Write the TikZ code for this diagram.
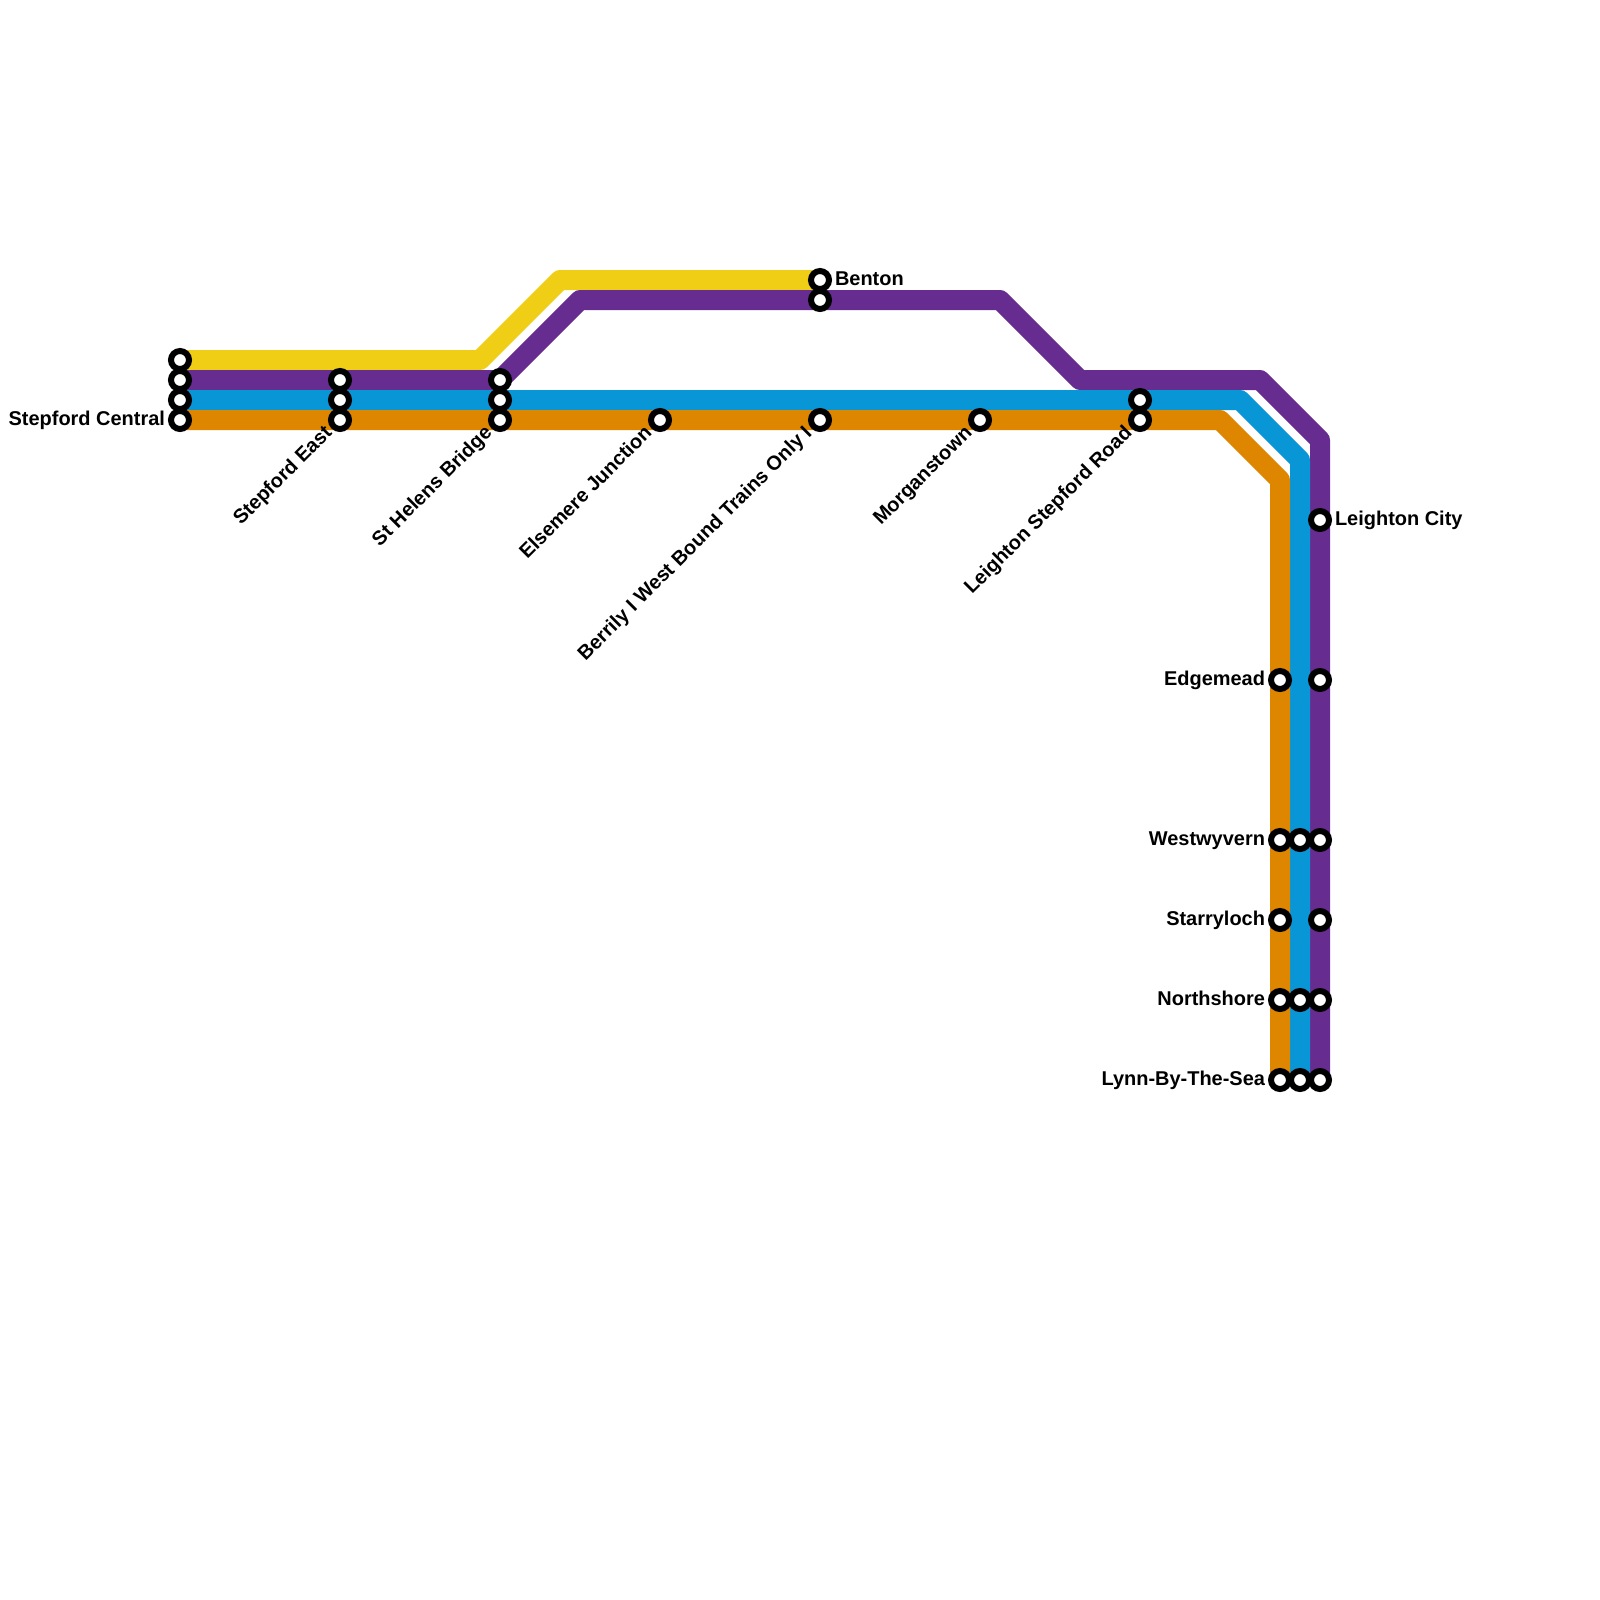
\documentclass[tikz,border=0pt]{standalone}
\usepackage{fontspec}
\setmainfont{Liberation Sans}
\usetikzlibrary{backgrounds}
\definecolor{lineyellow}{HTML}{F0CE15}
\definecolor{linepurple}{HTML}{662C90}
\definecolor{lineblue}{HTML}{0896D7}
\definecolor{lineorange}{HTML}{DF8600}

\begin{document}
\begin{tikzpicture}[x=0.5cm, y=-0.5cm,
  stn/.style={draw=black, fill=white, circle, line width=0.15cm, minimum size=0.45cm, inner sep=0pt},
  rail/.style={line width=0.5cm, line join=round},
  lbl/.style={font=\fontsize{14.2pt}{17pt}\bfseries, inner sep=0pt, outer sep=0pt},
  llbl/.style={lbl, anchor=mid east, yshift=-0.05cm},
  rlbl/.style={lbl, anchor=mid west, yshift=-0.05cm},
  dlbl/.style={lbl, anchor=mid east, rotate=45, yshift=-0.03cm},
]
  \useasboundingbox (0,0) rectangle (80,80);

  % Stations: x position, then the y positions along it.
  \foreach \x/\ys in {
      9/{18,19,20,21},
      17/{19,20,21},
      25/{19,20,21},
      33/{21},
      41/{14,15,21},
      49/{21},
      57/{20,21},
      64/{34,42,46,50,54},
      65/{42,50,54},
      66/{26,34,42,46,50,54}} {
    \foreach \y in \ys {
      \node[stn] (s\x-\y) at (\x,\y) {};
    }
  }

  % Line corners
  \coordinate (ya) at (24,18);
  \coordinate (yb) at (28,14);
  \coordinate (pa) at (25,19);
  \coordinate (pb) at (29,15);
  \coordinate (pc) at (50,15);
  \coordinate (pd) at (54,19);
  \coordinate (pe) at (63,19);
  \coordinate (pf) at (66,22);
  \coordinate (ba) at (62,20);
  \coordinate (bb) at (65,23);
  \coordinate (oa) at (61,21);
  \coordinate (ob) at (64,24);

  % Lines go under the stations
  \begin{scope}[on background layer]
    \draw[rail, lineyellow] (s9-18.center) -- (ya) -- (yb) -- (s41-14.center);
    \draw[rail, linepurple] (s9-19.center) -- (pa) -- (pb) -- (pc) -- (pd) -- (pe) -- (pf) -- (s66-54.center);
    \draw[rail, lineblue] (s9-20.center) -- (ba) -- (bb) -- (s65-54.center);
    \draw[rail, lineorange] (s9-21.center) -- (oa) -- (ob) -- (s64-54.center);
  \end{scope}

  % Labels left of the stations
  \foreach \n/\t in {
      s9-21/Stepford Central,
      s64-34/Edgemead,
      s64-42/Westwyvern,
      s64-46/Starryloch,
      s64-50/Northshore,
      s64-54/Lynn-By-The-Sea} {
    \node[llbl] (l\n) at ([xshift=-0.375cm]\n.center) {\t};
  }
  % Labels right of the stations
  \foreach \n/\t in {
      s41-14/Benton,
      s66-26/Leighton City} {
    \node[rlbl] (l\n) at ([xshift=0.375cm]\n.center) {\t};
  }
  % Slanted labels
  \foreach \n/\t in {
      s17-21/Stepford East,
      s25-21/St Helens Bridge,
      s33-21/Elsemere Junction,
      s41-21/Berrily I West Bound Trains Only I,
      s49-21/Morganstown,
      s57-21/Leighton Stepford Road} {
    \node[dlbl] (l\n) at ([shift={(225:0.375cm)}]\n.center) {\t};
  }
\end{tikzpicture}
\end{document}
